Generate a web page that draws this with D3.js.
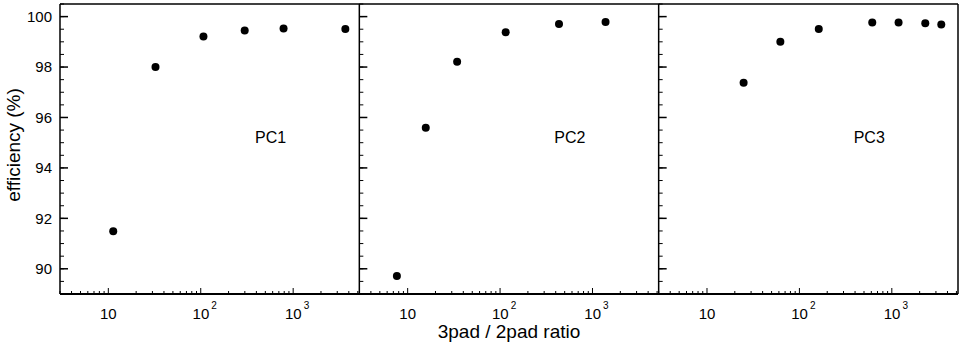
<!DOCTYPE html>
<html>
<head>
<meta charset="utf-8">
<script src="https://cdn.jsdelivr.net/npm/d3@7"></script>
<style>
  body { margin: 0; background: #fff; }
  text { font-family: "Liberation Sans", Arial, sans-serif; fill: #000; }
</style>
</head>
<body>
<script>

//Panel names
var panelNames = ["PC1", "PC2", "PC3"];

//3pad / 2pad ratio for each panel
var pc1Ratio = [11.3, 32.4, 107, 299, 787, 3670];
var pc2Ratio = [7.65, 15.7, 34.3, 115, 434, 1384];
var pc3Ratio = [24.9, 62.2, 162, 614, 1183, 2301, 3428];

//efficiency (%) for each panel
var pc1Eff = [91.49, 98.0, 99.21, 99.45, 99.53, 99.51];
var pc2Eff = [89.71, 95.59, 98.21, 99.38, 99.71, 99.79];
var pc3Eff = [97.38, 99.0, 99.51, 99.77, 99.77, 99.74, 99.69];

//Tick labels
var yTickValues = [90, 92, 94, 96, 98, 100];
var xTickValues = [10, 100, 1000];
var xTickBase = ["10", "10", "10"];
var xTickExp = ["", "2", "3"];

var ratios = [pc1Ratio, pc2Ratio, pc3Ratio];
var effs = [pc1Eff, pc2Eff, pc3Eff];

var width = 961, height = 347;
var plotLeft = 60, plotRight = 958, plotTop = 4, plotBottom = 294;
var panelW = (plotRight - plotLeft) / 3;

//Create the SVG Viewport
var svg = d3.select("body").append("svg")
            .attr("width", width)
            .attr("height", height);

var y = d3.scaleLinear()
          .domain([89, 100.5])
          .range([plotBottom, plotTop]);

var yMinor = d3.range(89, 100.51, 0.5);

panelNames.forEach(function (name, i) {
  var x0 = plotLeft + i * panelW;
  var x = d3.scaleLog()
            .domain([3, 5200])
            .range([x0, x0 + panelW]);

  var g = svg.append("g");

  //minor x ticks 2..9 per decade
  var xMinor = [];
  [1, 10, 100, 1000].forEach(function (dec) {
    for (var k = 2; k <= 9; k++) {
      var v = k * dec;
      if (v >= 3 && v <= 5200) xMinor.push(v);
    }
  });

  g.selectAll(".xminor")
   .data(xMinor)
   .enter()
   .append("line")
   .attr("x1", function (d) { return x(d); })
   .attr("x2", function (d) { return x(d); })
   .attr("y1", plotBottom)
   .attr("y2", plotBottom - 3)
   .attr("stroke", "#000")
   .attr("stroke-width", 1);

  g.selectAll(".xmajor")
   .data(xTickValues)
   .enter()
   .append("line")
   .attr("x1", function (d) { return x(d); })
   .attr("x2", function (d) { return x(d); })
   .attr("y1", plotBottom)
   .attr("y2", plotBottom - 6)
   .attr("stroke", "#000")
   .attr("stroke-width", 1);

  //x tick labels like 10, 10^2, 10^3
  var lab = g.selectAll(".xlab")
             .data(xTickValues)
             .enter()
             .append("text")
             .attr("x", function (d, j) { return x(d) + (xTickExp[j] ? 4 : 0); })
             .attr("y", 319)
             .attr("text-anchor", "middle")
             .attr("font-size", "15px");
  lab.append("tspan")
     .text(function (d, j) { return xTickBase[j]; });
  lab.append("tspan")
     .attr("dy", -10)
     .attr("dx", 2)
     .attr("font-size", "10px")
     .text(function (d, j) { return xTickExp[j]; });

  //y ticks on the left side of each panel
  g.selectAll(".yminor")
   .data(yMinor)
   .enter()
   .append("line")
   .attr("x1", x0)
   .attr("x2", x0 + 4)
   .attr("y1", function (d) { return y(d); })
   .attr("y2", function (d) { return y(d); })
   .attr("stroke", "#000")
   .attr("stroke-width", 1);

  g.selectAll(".ymajor")
   .data(yTickValues)
   .enter()
   .append("line")
   .attr("x1", x0)
   .attr("x2", x0 + 8)
   .attr("y1", function (d) { return y(d); })
   .attr("y2", function (d) { return y(d); })
   .attr("stroke", "#000")
   .attr("stroke-width", 1.5);

  //data points
  g.selectAll("circle")
   .data(ratios[i])
   .enter()
   .append("circle")
   .attr("cx", function (d) { return x(d); })
   .attr("cy", function (d, j) { return y(effs[i][j]); })
   .attr("r", 4)
   .style("fill", "#000");

  //panel label
  g.append("text")
   .attr("x", x0 + 195)
   .attr("y", 143)
   .attr("font-size", "16px")
   .text(name);

  //panel frame left edge
  g.append("line")
   .attr("x1", x0).attr("x2", x0)
   .attr("y1", plotTop).attr("y2", plotBottom)
   .attr("stroke", "#000")
   .attr("stroke-width", 1.5);
});

//outer frame top, bottom and right
svg.append("line")
   .attr("x1", plotLeft).attr("x2", plotRight)
   .attr("y1", plotTop).attr("y2", plotTop)
   .attr("stroke", "#000").attr("stroke-width", 1.5);
svg.append("line")
   .attr("x1", plotLeft).attr("x2", plotRight)
   .attr("y1", plotBottom).attr("y2", plotBottom)
   .attr("stroke", "#000").attr("stroke-width", 2);
svg.append("line")
   .attr("x1", plotRight).attr("x2", plotRight)
   .attr("y1", plotTop).attr("y2", plotBottom)
   .attr("stroke", "#000").attr("stroke-width", 1.5);

//y tick labels
svg.selectAll(".ylab")
   .data(yTickValues)
   .enter()
   .append("text")
   .attr("x", 52)
   .attr("y", function (d) { return y(d); })
   .attr("dy", "0.35em")
   .attr("text-anchor", "end")
   .attr("font-size", "15px")
   .text(function (d) { return d; });

//axis titles
svg.append("text")
   .attr("x", (plotLeft + plotRight) / 2)
   .attr("y", 338)
   .attr("text-anchor", "middle")
   .attr("font-size", "19px")
   .text("3pad / 2pad ratio");

svg.append("text")
   .attr("transform", "translate(20,145) rotate(-90)")
   .attr("text-anchor", "middle")
   .attr("font-size", "19px")
   .text("efficiency (%)");

</script>
</body>
</html>
